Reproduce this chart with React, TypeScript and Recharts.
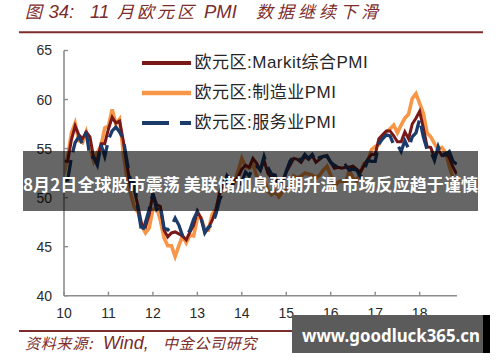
import React from 'react';
import { LineChart, Line, XAxis, YAxis, Legend } from 'recharts';

// Months start at Jan 2010 (x = 10), one value per month through Nov 2018
const startYear = 10;
const xTicks = [10, 11, 12, 13, 14, 15, 16, 17, 18];
const yTicks = [40, 45, 50, 55, 60, 65];
const seriesNames = ['欧元区:Markit综合PMI', '欧元区:制造业PMI', '欧元区:服务业PMI'];

const compositePMI = [
  53.7, 53.7, 55.9, 57.3, 56.4, 56.0, 56.7, 56.2, 54.1, 53.8, 55.5, 55.5,
  57.0, 58.2, 57.6, 57.8, 55.8, 53.3, 51.1, 50.7, 49.1, 47.2, 47.0, 48.3,
  50.4, 49.3, 49.1, 46.7, 46.0, 46.4, 46.5, 46.3, 46.1, 45.7, 46.5, 47.2,
  48.6, 47.9, 46.5, 46.9, 47.7, 48.7, 50.5, 51.5, 52.2, 51.9, 51.7, 52.1,
  52.9, 53.3, 53.1, 54.0, 53.5, 52.8, 53.8, 52.5, 52.0, 52.1, 51.1, 51.4,
  52.6, 53.3, 54.0, 53.9, 53.6, 54.2, 53.9, 54.3, 53.6, 53.9, 54.2, 54.3,
  53.6, 53.0, 53.1, 53.0, 53.1, 53.1, 53.2, 52.9, 52.6, 53.3, 53.9, 54.4,
  54.4, 56.0, 56.4, 56.8, 56.8, 56.3, 55.7, 55.7, 56.7, 56.0, 57.5, 58.1,
  58.8, 57.1, 55.2, 55.1, 54.1, 54.9, 54.3, 54.5, 54.1, 53.1, 52.4,
];

const manufacturingPMI = [
  52.4, 54.2, 56.6, 57.6, 55.8, 55.6, 56.7, 55.1, 53.7, 54.6, 55.3, 57.1,
  57.3, 59.0, 57.5, 58.0, 54.6, 52.0, 50.4, 49.0, 48.5, 47.1, 46.4, 46.9,
  48.8, 49.0, 47.7, 45.9, 45.1, 45.1, 44.0, 45.1, 46.1, 45.4, 46.2, 46.1,
  47.9, 47.9, 46.8, 46.7, 48.3, 48.8, 50.3, 51.4, 51.1, 51.3, 51.6, 52.7,
  54.0, 53.2, 53.0, 53.4, 52.2, 51.8, 51.8, 50.7, 50.3, 50.6, 50.1, 50.6,
  51.0, 51.0, 52.2, 52.0, 52.2, 52.5, 52.4, 52.3, 52.0, 52.3, 52.8, 53.2,
  52.3, 51.2, 51.6, 51.7, 51.5, 52.8, 52.0, 51.7, 52.6, 53.5, 53.7, 54.9,
  55.2, 55.4, 56.2, 56.7, 57.0, 57.4, 56.6, 57.4, 58.1, 58.5, 60.1, 60.6,
  59.6, 58.6, 56.6, 56.2, 55.5, 54.9, 55.1, 54.6, 53.2, 52.0, 51.8,
];

const servicesPMI = [
  51.7, 51.8, 54.1, 55.6, 56.2, 55.5, 56.7, 54.1, 54.1, 53.3, 55.4, 54.2,
  55.9, 56.8, 57.2, 56.7, 56.0, 53.7, 51.6, 51.5, 48.8, 46.4, 47.5, 48.8,
  50.4, 48.8, 49.2, 46.9, 46.7, 47.1, 47.9, 47.2, 46.1, 46.0, 46.7, 47.8,
  48.6, 47.9, 46.4, 47.0, 47.2, 48.3, 49.8, 50.7, 52.2, 51.6, 51.2, 51.0,
  51.6, 52.6, 52.2, 53.1, 53.2, 52.8, 54.2, 53.1, 52.4, 52.3, 51.1, 51.6,
  52.7, 53.7, 54.2, 54.1, 53.8, 54.4, 54.0, 54.4, 53.7, 54.1, 54.2, 54.2,
  53.6, 53.3, 53.1, 53.1, 53.3, 52.8, 52.9, 52.8, 52.2, 52.8, 53.8, 53.7,
  53.7, 55.5, 56.0, 56.4, 56.3, 55.4, 55.4, 54.7, 55.8, 55.0, 56.2, 56.6,
  58.0, 56.2, 54.9, 54.7, 53.8, 55.2, 54.2, 54.4, 54.7, 53.7, 53.4,
];

const data = compositePMI.map((v, i) => ({
  t: startYear + i / 12,
  composite: v,
  manufacturing: manufacturingPMI[i],
  services: servicesPMI[i],
}));

const RED = '#7a1717';
const ORANGE = '#f79646';
const BLUE = '#1b3b6b';
const BROWN = '#7b2c2c';
const AXIS = '#8c8c8c';

const legendItems = [
  { name: seriesNames[0], color: RED, width: 4, dash: undefined as string | undefined },
  { name: seriesNames[1], color: ORANGE, width: 4.5, dash: undefined as string | undefined },
  { name: seriesNames[2], color: BLUE, width: 4, dash: '27 11' },
];

const renderLegend = () => (
  <div style={{ display: 'flex', flexDirection: 'column' }}>
    {legendItems.map((it) => (
      <div key={it.name} style={{ display: 'flex', alignItems: 'center', height: 30 }}>
        <svg width={49} height={30} style={{ display: 'block' }}>
          <line x1={0} y1={15} x2={49} y2={15} stroke={it.color} strokeWidth={it.width} strokeDasharray={it.dash} />
        </svg>
        <span
          style={{
            marginLeft: 4,
            fontFamily: '"Liberation Sans", "Noto Sans CJK SC", sans-serif',
            fontSize: 17,
            letterSpacing: 0.5,
            color: '#262626',
            whiteSpace: 'nowrap',
            lineHeight: '30px',
          }}
        >
          {it.name}
        </span>
      </div>
    ))}
  </div>
);

const latin = '"Liberation Sans", Arial, sans-serif';
const cjk = '"Noto Sans CJK SC", sans-serif';

export default function App() {
  return (
    <div style={{ position: 'absolute', left: 0, top: 0, width: 500, height: 362, background: '#fff', overflow: 'hidden' }}>
      <LineChart width={500} height={362} data={data} margin={{ top: 50.5, right: 43, bottom: 36.3, left: 24 }}>
        <XAxis
          type="number"
          dataKey="t"
          domain={[10, 18.84]}
          ticks={xTicks}
          allowDataOverflow
          height={30}
          tickSize={-4}
          tickMargin={16}
          axisLine={{ stroke: AXIS, strokeWidth: 1.6 }}
          tickLine={{ stroke: AXIS, strokeWidth: 1.4 }}
          tick={{ fontSize: 14, fill: '#2a2a2a', fontFamily: latin }}
        />
        <YAxis
          type="number"
          domain={[40, 65]}
          ticks={yTicks}
          width={40}
          tickSize={-4}
          tickMargin={16}
          axisLine={{ stroke: AXIS, strokeWidth: 1.6 }}
          tickLine={{ stroke: AXIS, strokeWidth: 1.4 }}
          tick={{ fontSize: 14, fill: '#2a2a2a', fontFamily: latin }}
        />
        <Legend
          layout="vertical"
          align="center"
          verticalAlign="middle"
          wrapperStyle={{ left: 141.5, top: 47.7, width: 260 }}
          content={renderLegend}
        />
        <Line type="linear" dataKey="manufacturing" name={seriesNames[1]} stroke={ORANGE} strokeWidth={3.6} dot={false} isAnimationActive={false} />
        <Line type="linear" dataKey="composite" name={seriesNames[0]} stroke={RED} strokeWidth={3} dot={false} isAnimationActive={false} />
        <Line type="linear" dataKey="services" name={seriesNames[2]} stroke={BLUE} strokeWidth={3.3} strokeDasharray="24 8" dot={false} isAnimationActive={false} />
      </LineChart>

      <svg width={500} height={362} style={{ position: 'absolute', left: 0, top: 0, pointerEvents: 'none' }}>
        {/* Title */}
        <g fill={BROWN} fontStyle="italic">
          <text x={25} y={18} fontSize={17} fontFamily={cjk}>图</text>
          <text x={48.5} y={17.5} fontSize={18.5} fontFamily={latin}>34:</text>
          <text x={90} y={17.5} fontSize={18.5} fontFamily={latin}>11</text>
          <text x={117} y={18} fontSize={17} fontFamily={cjk} letterSpacing={3}>月欧元区</text>
          <text x={204} y={17.5} fontSize={18.5} fontFamily={latin}>PMI</text>
          <text x={256} y={18} fontSize={17} fontFamily={cjk} letterSpacing={4}>数据继续下滑</text>
        </g>
        <line x1={19} y1={32.3} x2={483} y2={32.3} stroke={BROWN} strokeWidth={2} />

        {/* Source */}
        <line x1={19} y1={331} x2={483} y2={331} stroke={BROWN} strokeWidth={1.8} />
        <g fill={BROWN} fontStyle="italic">
          <text x={25} y={348.5} fontSize={15} fontFamily={cjk} letterSpacing={0.8}>资料来源:</text>
          <text x={103} y={348.5} fontSize={18} fontFamily={latin}>Wind,</text>
          <text x={163} y={348.5} fontSize={15} fontFamily={cjk} letterSpacing={0.7}>中金公司研究</text>
        </g>

        {/* Banner overlay */}
        <rect x={23} y={151} width={455} height={60} fill="rgba(0,0,0,0.6)" />
        <text x={23} y={191} fontSize={17} fontWeight="bold" fontFamily={cjk} fill="#fff" textLength={455} lengthAdjust="spacing">
          8月2日全球股市震荡 美联储加息预期升温 市场反应趋于谨慎
        </text>

        {/* Watermark */}
        <rect x={292} y={315} width={191} height={38} fill="#5b5b5b" />
        <rect x={483} y={315} width={7} height={38} fill="#000" />
        <text x={302} y={342} fontSize={17} fontWeight="bold" fontFamily='"Noto Sans", sans-serif' fill="#fff" textLength={178} lengthAdjust="spacingAndGlyphs">
          www.goodluck365.cn
        </text>
      </svg>
    </div>
  );
}
